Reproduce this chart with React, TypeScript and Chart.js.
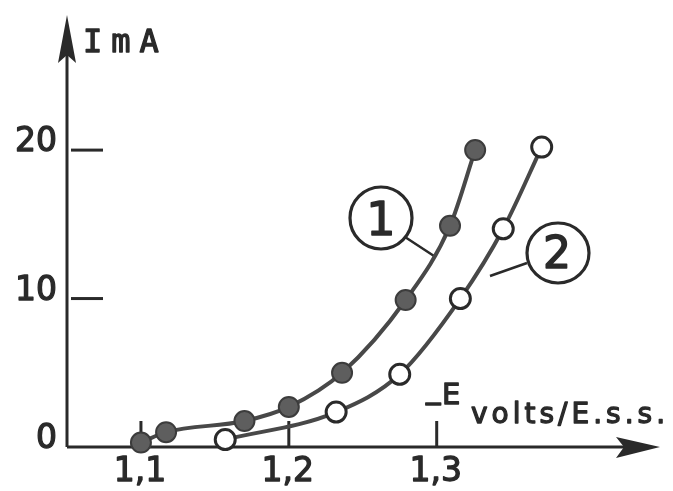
import React, { useEffect, useRef } from "react";
import { Chart, registerables } from "chart.js";
Chart.register(...registerables);

// Curve 1 (filled markers)
const series1X = [1.1, 1.117, 1.17, 1.2, 1.236, 1.279, 1.309, 1.326];
const series1Y = [0.3, 1.0, 1.75, 2.7, 5.0, 9.9, 14.9, 20.0];
// Curve 2 (open markers)
const series2X = [1.157, 1.232, 1.275, 1.316, 1.345, 1.371];
const series2Y = [0.5, 2.35, 4.9, 10.0, 14.7, 20.2];

const xTicks = [1.1, 1.2, 1.3];
const xTickLabels = ["1,1", "1,2", "1,3"];
const yTicks = [0, 10, 20];
const yTickLabels = ["0", "10", "20"];
const curveLabels = ["1", "2"];
const yAxisTitle = "ImA";
const xAxisTitleSign = "_";
const xAxisTitleSymbol = "E";
const xAxisTitleUnit = "volts/E.s.s.";

const INK = "#2a2a2a";

function inkText(ctx: CanvasRenderingContext2D, s: string, x: number, y: number, w = 1.3) {
  ctx.fillText(s, x, y);
  ctx.lineWidth = w;
  ctx.strokeText(s, x, y);
}

const drawPlugin = {
  id: "handDrawnAxes",
  beforeDatasetsDraw(chart: any) {
    const ctx = chart.ctx as CanvasRenderingContext2D;
    const xs = chart.scales.x;
    const ys = chart.scales.y;
    const area = chart.chartArea;
    const x0 = area.left;
    const y0 = area.bottom;
    ctx.save();
    ctx.strokeStyle = INK;
    ctx.fillStyle = INK;
    ctx.lineCap = "butt";
    // axes
    ctx.lineWidth = 3;
    ctx.beginPath();
    ctx.moveTo(x0, y0);
    ctx.lineTo(x0, area.top + 20);
    ctx.moveTo(x0, y0);
    ctx.lineTo(area.right - 20, y0);
    ctx.stroke();
    // y arrow head
    ctx.beginPath();
    ctx.moveTo(x0, area.top);
    ctx.lineTo(x0 + 9, area.top + 48);
    ctx.lineTo(x0, area.top + 40);
    ctx.lineTo(x0 - 9, area.top + 48);
    ctx.closePath();
    ctx.fill();
    // x arrow head
    ctx.beginPath();
    ctx.moveTo(area.right, y0);
    ctx.lineTo(area.right - 44, y0 - 10);
    ctx.lineTo(area.right - 36, y0);
    ctx.lineTo(area.right - 44, y0 + 11);
    ctx.closePath();
    ctx.fill();
    // y ticks (inside, to the right)
    ctx.lineWidth = 3;
    yTicks.forEach((v) => {
      if (v === 0) return;
      const py = ys.getPixelForValue(v);
      ctx.beginPath();
      ctx.moveTo(x0 + 4, py);
      ctx.lineTo(x0 + 36, py);
      ctx.stroke();
    });
    // x ticks (upward)
    xTicks.forEach((v) => {
      const px = xs.getPixelForValue(v);
      ctx.beginPath();
      ctx.moveTo(px, y0);
      ctx.lineTo(px, y0 - 26);
      ctx.stroke();
    });
    // leader lines from curve labels
    ctx.lineWidth = 2.5;
    ctx.beginPath();
    ctx.moveTo(405, 237);
    ctx.lineTo(434, 256);
    ctx.moveTo(527, 263);
    ctx.lineTo(490, 276);
    ctx.stroke();
    // label ellipses
    ctx.lineWidth = 3.2;
    ctx.beginPath();
    ctx.ellipse(381, 218, 31, 31, 0, 0, Math.PI * 2);
    ctx.stroke();
    ctx.beginPath();
    ctx.ellipse(558, 253, 31, 30, 0, 0, Math.PI * 2);
    ctx.stroke();
    ctx.restore();
  },
  afterDraw(chart: any) {
    const ctx = chart.ctx as CanvasRenderingContext2D;
    const xs = chart.scales.x;
    const ys = chart.scales.y;
    const area = chart.chartArea;
    ctx.save();
    ctx.fillStyle = INK;
    ctx.strokeStyle = INK;
    ctx.lineJoin = "round";
    ctx.font = "33px 'DejaVu Sans'";
    ctx.textAlign = "right";
    ctx.textBaseline = "alphabetic";
    yTicks.forEach((v, i) => {
      const py = ys.getPixelForValue(v);
      inkText(ctx, yTickLabels[i], 57, py + 1);
    });
    ctx.textAlign = "center";
    xTicks.forEach((v, i) => {
      const px = xs.getPixelForValue(v);
      inkText(ctx, xTickLabels[i], px - 1, 481);
    });
    // y axis title
    ctx.textAlign = "left";
    (ctx as any).letterSpacing = "9px";
    ctx.font = "32px 'DejaVu Sans Mono'";
    inkText(ctx, yAxisTitle, area.left + 16, 52);
    // x axis title
    (ctx as any).letterSpacing = "0px";
    ctx.font = "29px 'DejaVu Sans'";
    inkText(ctx, xAxisTitleSign, 426, 398);
    inkText(ctx, xAxisTitleSymbol, 442, 404);
    (ctx as any).letterSpacing = "4px";
    ctx.font = "28px 'DejaVu Sans'";
    inkText(ctx, xAxisTitleUnit, 471, 423);
    // curve labels
    (ctx as any).letterSpacing = "0px";
    ctx.textAlign = "center";
    ctx.font = "46px 'DejaVu Sans'";
    inkText(ctx, curveLabels[0], 381, 235, 1.5);
    ctx.font = "44px 'DejaVu Sans'";
    inkText(ctx, curveLabels[1], 557, 268, 1.5);
    ctx.restore();
  },
};

export default function App() {
  const canvasRef = useRef<HTMLCanvasElement | null>(null);
  useEffect(() => {
    document.body.style.margin = "0";
    const canvas = canvasRef.current;
    if (!canvas) return;
    const chart = new Chart(canvas, {
      type: "line",
      data: {
        datasets: [
          {
            label: "1",
            data: series1X.map((x, i) => ({ x, y: series1Y[i] })),
            borderColor: "#484848",
            borderWidth: 4,
            pointRadius: 10,
            pointBackgroundColor: "#5e5e5e",
            pointBorderColor: "#3c3c3c",
            pointBorderWidth: 2,
            cubicInterpolationMode: "monotone",
            clip: false,
          },
          {
            label: "2",
            data: series2X.map((x, i) => ({ x, y: series2Y[i] })),
            borderColor: "#484848",
            borderWidth: 4,
            pointRadius: 10,
            pointBackgroundColor: "#ffffff",
            pointBorderColor: "#2a2a2a",
            pointBorderWidth: 3,
            cubicInterpolationMode: "monotone",
            clip: false,
          },
        ],
      },
      options: {
        animation: false,
        responsive: false,
        events: [],
        layout: { padding: { left: 67, right: 3, top: 15, bottom: 44 } },
        scales: {
          x: { type: "linear", display: false, min: 1.05, max: 1.451 },
          y: { type: "linear", display: false, min: 0, max: 29.1 },
        },
        plugins: { legend: { display: false }, tooltip: { enabled: false } },
      },
      plugins: [drawPlugin],
    } as any);
    return () => chart.destroy();
  }, []);
  return (
    <div style={{ width: 673, height: 491, background: "#fff" }}>
      <canvas ref={canvasRef} width={673} height={491} />
    </div>
  );
}
